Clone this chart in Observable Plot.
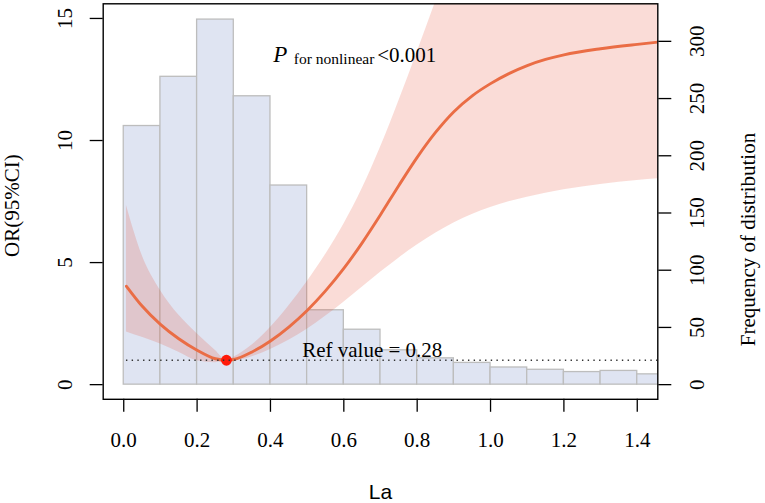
<!DOCTYPE html>
<html><head><meta charset="utf-8">
<script src="https://cdn.jsdelivr.net/npm/d3@7"></script>
<script src="https://cdn.jsdelivr.net/npm/@observablehq/plot@0.6"></script>
<style>body{margin:0;background:#fff}</style>
</head><body><div id="chart"></div>
<script>
// Histogram of La (bin starts, width 0.1) and counts
const binStart = [0.0,0.1,0.2,0.3,0.4,0.5,0.6,0.7,0.8,0.9,1.0,1.1,1.2,1.3,1.4];
const binWidth = 0.1;
const freq = [226,269,319,252,174,65,48,30,23,19,15,13,11,12,9];

// Restricted cubic spline OR curve with 95% CI
const laGrid  = [0.0074,0.05,0.1,0.15,0.2,0.25,0.28,0.3,0.35,0.4,0.45,0.5,0.55,0.6,0.65,0.7,0.75,0.8,0.85,0.9,0.95,1.0,1.05,1.1,1.15,1.2,1.3,1.4,1.456];
const orFit   = [4.03,3.22,2.47,1.88,1.41,1.06,1.0,1.03,1.34,1.79,2.36,3.04,3.84,4.76,5.81,6.96,8.16,9.31,10.33,11.18,11.83,12.33,12.74,13.07,13.32,13.51,13.76,13.94,14.03];
const orLower = [2.16,1.94,1.67,1.33,0.98,0.9,1.0,0.98,1.14,1.44,1.82,2.27,2.8,3.38,3.99,4.6,5.18,5.72,6.2,6.62,6.97,7.26,7.49,7.68,7.84,7.98,8.2,8.36,8.43];
const orUpper = [7.34,5.3,3.86,2.85,2.09,1.4,1.0,1.12,1.62,2.34,3.22,4.22,5.32,6.57,8.02,9.72,11.62,13.62,15.67,17.77,19.9,22,24.1,26.2,28.3,30.4,34.6,38.8,41];

const refValue = 0.28;
const refOR = 1;
const orTicks = [0,5,10,15];
const freqTicks = [0,50,100,150,200,250,300];
const xTicks = [0,0.2,0.4,0.6,0.8,1.0,1.2,1.4];
const xlim = [0,1.4];
const ylim = [0,15];
const freqAtTop = 320; // frequency drawn at OR = 15
const k = 15/freqAtTop;

const expand = ([a,b]) => [a-(b-a)*0.04, b+(b-a)*0.04];

const bins = binStart.map((s,i)=>({x1:s, x2:s+binWidth, f:freq[i]}));
const curve = laGrid.map((x,i)=>({x, fit:orFit[i], lo:orLower[i], hi:orUpper[i]}));

const serif = "'Liberation Serif', 'Times New Roman', serif";
const sans = "'Liberation Sans', Arial, sans-serif";

const chart = Plot.plot({
  width: 765, height: 503,
  marginTop: 3.3, marginBottom: 104.2, marginLeft: 102.7, marginRight: 107.7,
  style: {fontFamily: serif, background: "#fff", color: "#000", overflow: "visible"},
  x: {domain: expand(xlim), axis: null},
  y: {domain: expand(ylim), axis: null},
  marks: [
    Plot.rect(bins, {x1:"x1", x2:"x2", y1:0, y2:d=>d.f*k, fill:"#dfe4f2", stroke:"#bdbdbd", strokeWidth:1.3, clip:true}),
    Plot.areaY(curve, {x:"x", y1:"lo", y2:"hi", fill:"#e6462d", fillOpacity:0.19, curve:"monotone-x", clip:true}),
    Plot.line(curve, {x:"x", y:"fit", stroke:"#ea6d45", strokeWidth:2.9, curve:"monotone-x", clip:true}),
    Plot.dot([{x:refValue, y:refOR}], {x:"x", y:"y", r:5.4, fill:"#ff1a0a", stroke:null}),
    Plot.ruleY([refOR], {x1: laGrid[0], x2: laGrid[laGrid.length-1], stroke:"#333", strokeWidth:1.4, strokeDasharray:"1.4,4.3", clip:true}),
    Plot.frame({stroke:"#000", strokeWidth:1.4}),
    // bottom axis
    Plot.axisX(xTicks, {tickSize:13, tickPadding:20, fontSize:21, tickFormat:d3.format(".1f"), label:null, strokeWidth:1.3, fontFamily: serif}),
    // left axis
    Plot.axisY(orTicks, {anchor:"left", tickSize:13, tickFormat:()=>"", label:null, strokeWidth:1.3}),
    Plot.text(orTicks, {y:d=>d, text:d=>String(d), frameAnchor:"left", dx:-31.3, rotate:-90, textAnchor:"middle", lineAnchor:"bottom", fontSize:21, fontFamily:serif, fill:"#000"}),
    // right axis (frequency)
    Plot.axisY(freqTicks.map(f=>f*k), {anchor:"right", tickSize:13, tickFormat:()=>"", label:null, strokeWidth:1.3}),
    Plot.text(freqTicks, {y:d=>d*k, text:d=>String(d), frameAnchor:"right", dx:46.5, rotate:-90, textAnchor:"middle", lineAnchor:"bottom", fontSize:21, fontFamily:serif, fill:"#000"}),
    // axis titles
    Plot.text(["OR(95%CI)"], {text:d=>d, frameAnchor:"left", dx:-84.7, dy:4, rotate:-90, textAnchor:"middle", lineAnchor:"bottom", fontSize:21, fontFamily:serif, fill:"#000"}),
    Plot.text(["Frequency of distribution"], {text:d=>d, frameAnchor:"right", dx:96.7, dy:38, rotate:-90, textAnchor:"middle", lineAnchor:"bottom", fontSize:21, fontFamily:serif, fill:"#000"}),
    Plot.text(["La"], {text:d=>d, frameAnchor:"bottom", dy:100, textAnchor:"middle", lineAnchor:"bottom", fontSize:21, fontFamily:sans, fill:"#000"}),
    // annotations
    Plot.text(["P"], {x:0.4076, y:13.21, text:d=>d, textAnchor:"start", lineAnchor:"bottom", fontSize:23, fontStyle:"italic", fontFamily:serif, fill:"#000"}),
    Plot.text(["for nonlinear"], {x:0.4637, y:13.13, text:d=>d, textAnchor:"start", lineAnchor:"bottom", fontSize:15.5, fontFamily:serif, fill:"#000"}),
    Plot.text(["<0.001"], {x:0.691, y:13.21, text:d=>d, textAnchor:"start", lineAnchor:"bottom", fontSize:21, fontFamily:serif, fill:"#000"}),
    Plot.text(["Ref value = " + refValue], {x:0.4866, y:1.12, text:d=>d, textAnchor:"start", lineAnchor:"bottom", fontSize:21, fontFamily:serif, fill:"#000"})
  ]
});
// make sure every label uses the serif face, except the sans x-axis title
d3.select(chart).selectAll("text").style("font-family", function(){ return this.textContent === "La" ? sans : serif; });
d3.select(chart).selectAll("tspan").style("font-family", function(){ return this.textContent === "La" ? sans : serif; });
document.getElementById("chart").appendChild(chart);
</script>
</body></html>
